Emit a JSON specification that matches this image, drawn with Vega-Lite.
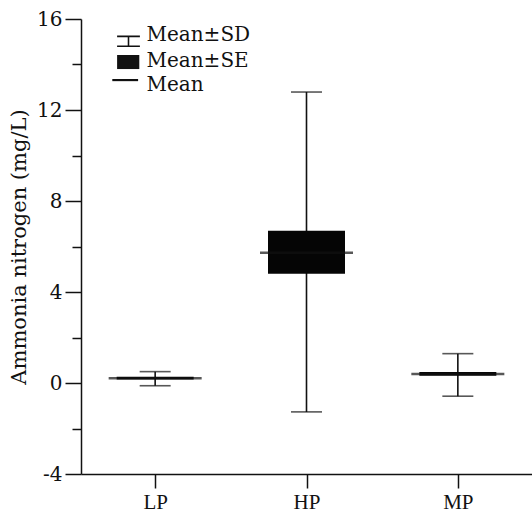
{
  "$schema": "https://vega.github.io/schema/vega-lite/v6.json",
  "width": 451,
  "height": 455,
  "autosize": {"type": "none"},
  "padding": {"left": 81, "top": 19, "right": 0, "bottom": 44},
  "background": "white",
  "config": {
    "view": {"stroke": null},
    "font": "Liberation Serif, Times New Roman, serif"
  },
  "data": {
    "values": [
      {"group": "LP", "mean": 0.21, "sd_lo": -0.12, "sd_hi": 0.5, "se_lo": 0.15, "se_hi": 0.27},
      {"group": "HP", "mean": 5.73, "sd_lo": -1.27, "sd_hi": 12.79, "se_lo": 4.8, "se_hi": 6.69},
      {"group": "MP", "mean": 0.4, "sd_lo": -0.58, "sd_hi": 1.29, "se_lo": 0.32, "se_hi": 0.48}
    ]
  },
  "layer": [
    {
      "mark": {"type": "rule", "color": "#111", "strokeWidth": 1.6},
      "encoding": {
        "x": {
          "field": "group", "type": "nominal", "sort": ["LP", "HP", "MP"],
          "scale": {"type": "point", "padding": 0.49},
          "axis": {
            "title": null, "labelAngle": 0, "labelFont": "Liberation Serif, Times New Roman, serif", "labelFontSize": 21,
            "labelColor": "#111", "tickSize": 14, "labelPadding": 3, "domainColor": "#111",
            "tickColor": "#111", "domainWidth": 1.5, "tickWidth": 1.5, "grid": false
          }
        },
        "y": {
          "field": "sd_lo", "type": "quantitative",
          "scale": {"domain": [-4, 16], "nice": false, "zero": false},
          "axis": {
            "title": "Ammonia nitrogen (mg/L)",
            "values": [-4, -2, 0, 2, 4, 6, 8, 10, 12, 14, 16],
            "labelExpr": "datum.value % 4 === 0 ? '' + datum.value : ''",
            "tickSize": {"condition": {"test": "datum.value % 4 === 0", "value": 16}, "value": 9},
            "labelPadding": 3, "labelFont": "DejaVu Serif", "labelFontSize": 20, "labelColor": "#111",
            "titleFont": "DejaVu Serif", "titleFontSize": 21, "titleFontWeight": "normal", "titleColor": "#111",
            "titlePadding": 7, "grid": false, "domainColor": "#111", "tickColor": "#111",
            "domainWidth": 1.5, "tickWidth": 1.5
          }
        },
        "y2": {"field": "sd_hi"}
      }
    },
    {
      "mark": {"type": "tick", "color": "#111", "size": 31, "thickness": 1.6},
      "encoding": {
        "x": {"field": "group", "type": "nominal", "sort": ["LP", "HP", "MP"]},
        "y": {"field": "sd_lo", "type": "quantitative"}
      }
    },
    {
      "mark": {"type": "tick", "color": "#111", "size": 31, "thickness": 1.6},
      "encoding": {
        "x": {"field": "group", "type": "nominal", "sort": ["LP", "HP", "MP"]},
        "y": {"field": "sd_hi", "type": "quantitative"}
      }
    },
    {
      "mark": {"type": "bar", "color": "#050505", "width": 77},
      "encoding": {
        "x": {"field": "group", "type": "nominal", "sort": ["LP", "HP", "MP"]},
        "y": {"field": "se_lo", "type": "quantitative"},
        "y2": {"field": "se_hi"}
      }
    },
    {
      "mark": {"type": "tick", "color": "#111", "size": 93, "thickness": 2.5},
      "encoding": {
        "x": {"field": "group", "type": "nominal", "sort": ["LP", "HP", "MP"]},
        "y": {"field": "mean", "type": "quantitative"}
      }
    },
    {
      "data": {"values": [{"item": "Mean±SD"}, {"item": "Mean±SE"}, {"item": "Mean"}]},
      "mark": {"type": "point", "size": 0, "filled": true, "color": "#111", "strokeWidth": 0},
      "encoding": {
        "shape": {
          "field": "item", "type": "nominal", "sort": null,
          "scale": {
            "domain": ["Mean±SD", "Mean±SE", "Mean"],
            "range": [
              "M-0.95,0.05H0.95V0.18H-0.95Z M-0.95,0.87H0.95V1H-0.95Z M-0.065,0.1H0.065V0.95H-0.065Z",
              "M-0.95,-0.5H0.9V0.67H-0.95Z",
              "M-1.35,-0.5H0.8V-0.32H-1.35Z"
            ]
          },
          "legend": {
            "title": null, "orient": "none", "legendX": 35.5, "legendY": 4,
            "padding": 0, "symbolSize": 576, "symbolFillColor": "#111", "symbolStrokeColor": "#111",
            "symbolStrokeWidth": 0, "symbolOpacity": 1, "labelFont": "DejaVu Serif", "labelFontSize": 20,
            "labelColor": "#111", "labelOffset": 6, "rowPadding": 2, "labelLimit": 300
          }
        }
      }
    }
  ]
}
